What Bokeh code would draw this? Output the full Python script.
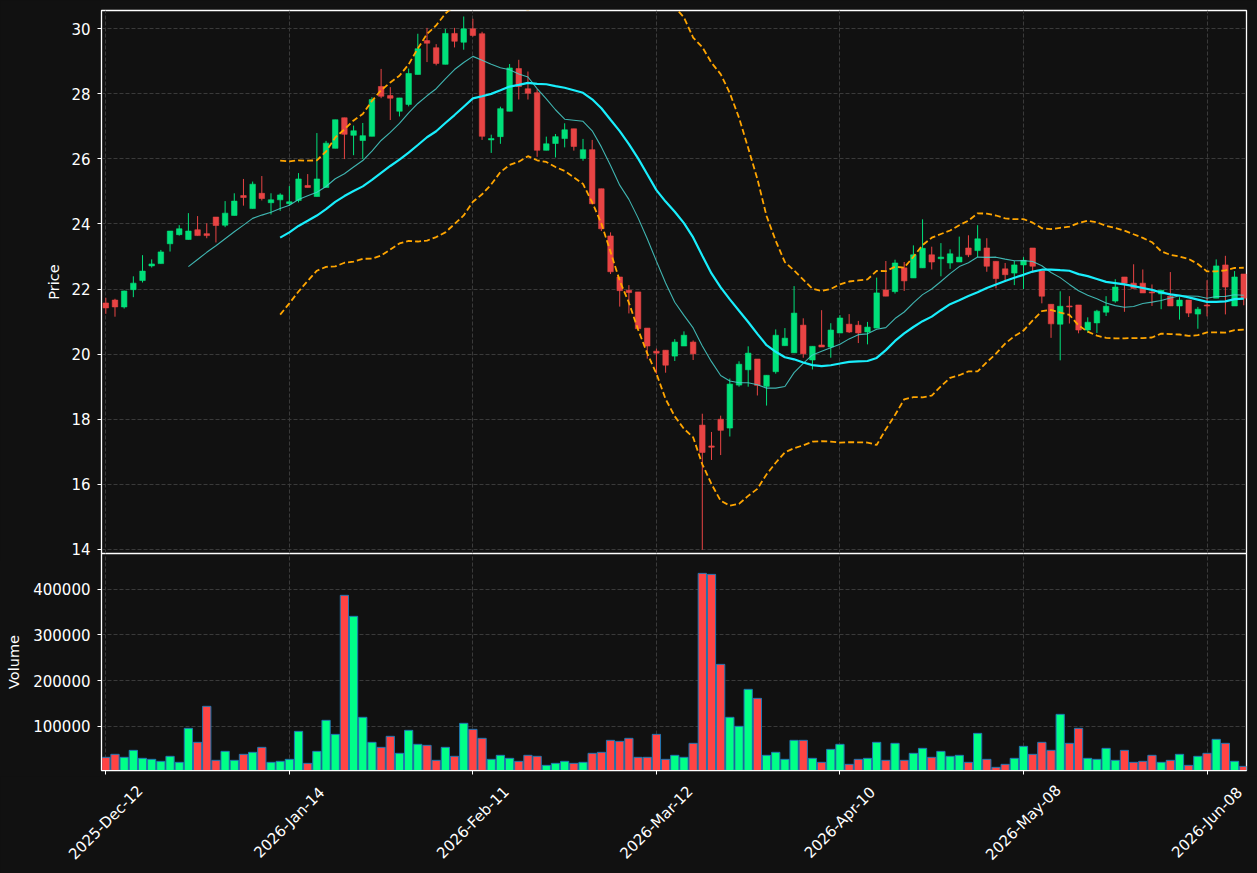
import numpy as np
import pandas as pd
from math import pi
from bokeh.plotting import figure
from bokeh.layouts import column
from bokeh.models import ColumnDataSource, FixedTicker, Range1d, NumeralTickFormatter
from bokeh.core.properties import value
from bokeh.embed import file_html
from bokeh.resources import INLINE

# ---------------- data ----------------
opens = [21.57, 21.66, 21.45, 21.98, 22.26, 22.71, 22.78, 23.39, 23.67, 23.52,
         23.82, 23.70, 24.21, 23.96, 24.26, 24.87, 24.47, 24.94, 24.65, 24.74,
         24.62, 24.72, 25.18, 24.84, 25.12, 26.32, 27.26, 26.72, 26.56, 26.69,
         28.22, 27.94, 27.46, 27.67, 28.59, 29.63, 29.41, 28.90, 29.85, 29.58,
         29.99, 29.84, 26.58, 26.68, 27.46, 28.77, 28.15, 28.03, 26.26, 26.47,
         26.62, 26.92, 26.01, 26.28, 25.08, 23.63, 22.37, 21.96, 21.91, 20.80,
         20.09, 20.12, 19.94, 20.25, 20.37, 17.82, 17.18, 18.00, 17.73, 19.05,
         19.52, 19.85, 19.01, 19.46, 20.26, 20.04, 20.89, 19.82, 20.28, 20.22,
         20.65, 20.92, 20.89, 20.68, 20.80, 21.97, 21.92, 22.65, 22.34, 22.65,
         23.05, 22.93, 22.80, 22.83, 23.26, 23.18, 23.26, 22.85, 22.62, 22.49,
         22.74, 23.26, 22.55, 21.53, 20.92, 21.48, 21.51, 20.74, 20.96, 21.29,
         21.63, 22.37, 22.18, 22.18, 21.91, 21.85, 21.78, 21.48, 21.66, 21.23,
         21.51, 21.72, 22.74, 21.48, 22.46]
highs = [21.73, 21.70, 21.95, 22.39, 23.04, 22.91, 23.20, 23.78, 23.96, 24.33,
         24.24, 24.02, 24.21, 24.70, 24.94, 25.38, 25.30, 25.47, 24.94, 24.94,
         25.16, 25.56, 25.53, 26.79, 26.55, 27.20, 27.26, 27.02, 27.10, 27.89,
         28.76, 28.20, 27.87, 28.77, 29.84, 30.02, 29.52, 29.99, 30.02, 30.37,
         30.30, 29.90, 26.74, 27.60, 28.91, 29.04, 28.68, 28.14, 26.68, 26.76,
         27.09, 26.92, 26.61, 26.58, 25.08, 23.74, 22.37, 22.12, 21.91, 20.80,
         20.17, 20.12, 20.46, 20.70, 20.42, 18.17, 17.61, 18.11, 19.25, 19.78,
         20.24, 19.85, 19.35, 20.76, 20.80, 22.09, 21.10, 20.24, 21.35, 20.95,
         21.20, 21.23, 21.02, 20.99, 22.35, 22.86, 22.90, 22.83, 23.34, 24.14,
         23.30, 23.41, 23.22, 23.61, 23.65, 23.96, 23.56, 22.85, 22.80, 22.86,
         22.98, 23.26, 22.55, 21.53, 21.93, 21.78, 21.51, 21.13, 21.36, 21.78,
         22.30, 22.37, 22.76, 22.60, 22.14, 21.96, 22.52, 21.75, 21.66, 21.45,
         22.27, 22.91, 23.02, 22.55, 22.46]
lows = [21.24, 21.15, 21.40, 21.75, 22.20, 22.66, 22.78, 23.15, 23.64, 23.52,
        23.64, 23.56, 23.43, 23.90, 24.26, 24.56, 24.47, 24.72, 24.29, 24.40,
        24.56, 24.66, 25.12, 24.84, 25.12, 26.32, 25.99, 26.11, 25.99, 26.69,
        27.86, 27.19, 27.30, 27.61, 28.59, 28.97, 28.87, 28.90, 29.42, 29.35,
        29.75, 26.58, 26.18, 26.46, 27.46, 27.82, 27.82, 26.06, 26.26, 26.04,
        26.35, 26.25, 25.94, 24.60, 23.78, 22.46, 21.46, 21.25, 20.75, 19.86,
        19.40, 19.43, 19.79, 20.25, 19.82, 13.99, 16.75, 16.90, 17.47, 19.00,
        19.00, 18.73, 18.42, 19.40, 20.26, 20.04, 19.89, 19.53, 20.22, 19.89,
        20.65, 20.65, 20.34, 20.30, 20.80, 21.78, 21.86, 21.94, 22.34, 22.65,
        22.60, 22.39, 22.62, 22.83, 22.98, 22.98, 22.53, 22.02, 22.22, 22.12,
        22.00, 22.49, 21.56, 20.50, 19.81, 20.94, 20.64, 20.66, 20.65, 21.17,
        21.58, 21.30, 22.02, 21.88, 21.48, 21.38, 21.48, 21.06, 21.14, 20.78,
        21.16, 21.72, 21.22, 21.48, 21.50]
closes = [21.42, 21.45, 21.94, 22.18, 22.55, 22.77, 23.14, 23.78, 23.85, 23.78,
          23.64, 23.64, 23.95, 24.33, 24.70, 24.81, 25.22, 24.78, 24.74, 24.89,
          24.68, 25.38, 25.12, 25.38, 26.48, 27.20, 26.75, 26.86, 26.71, 27.82,
          27.92, 27.86, 27.87, 28.62, 29.38, 29.55, 28.93, 29.85, 29.61, 29.99,
          29.79, 26.69, 26.62, 27.54, 28.79, 28.22, 28.01, 26.26, 26.46, 26.68,
          26.89, 26.38, 26.28, 24.62, 23.85, 22.53, 21.95, 21.89, 20.78, 20.25,
          20.03, 19.66, 20.37, 20.58, 20.01, 16.98, 17.14, 17.66, 19.08, 19.69,
          20.03, 19.04, 19.35, 20.58, 20.49, 21.26, 20.01, 20.24, 20.22, 20.74,
          21.11, 20.68, 20.65, 20.83, 21.88, 21.78, 22.80, 22.25, 23.05, 23.25,
          22.83, 22.98, 23.08, 22.98, 23.05, 23.54, 22.70, 22.32, 22.44, 22.74,
          22.88, 22.70, 21.78, 20.93, 21.47, 21.45, 20.74, 20.98, 21.32, 21.47,
          22.06, 22.18, 22.02, 21.88, 21.88, 21.96, 21.48, 21.66, 21.26, 21.38,
          21.48, 22.71, 22.06, 22.37, 21.72]
volumes = [31400, 38000, 31400, 46700, 29200, 27000, 22600, 33600, 20400, 95000,
           64300, 143300, 24800, 44500, 24800, 38000, 42400, 53300, 20400, 22600,
           27000, 88400, 18200, 44500, 112600, 81800, 386900, 340800, 119200, 64300,
           53300, 77500, 40200, 90600, 59900, 57700, 24800, 53300, 33600, 106000,
           92800, 73100, 27000, 35800, 29200, 22600, 35800, 33600, 13800, 18200,
           22600, 18200, 20400, 40200, 42400, 68700, 66500, 73100, 31400, 31400,
           81800, 27000, 35800, 31400, 62100, 435100, 432900, 235400, 119200, 99400,
           180600, 160800, 35800, 42400, 27000, 68700, 68700, 29200, 20400, 48900,
           59900, 16000, 27000, 29200, 64300, 24800, 62100, 24800, 40200, 51100,
           31400, 44500, 33600, 35800, 20400, 84000, 27000, 9400, 16000, 29200,
           55500, 38000, 64300, 46700, 125700, 62100, 95000, 29200, 27000, 51100,
           24800, 46700, 20400, 22600, 35800, 20400, 24800, 38000, 13800, 33600,
           40200, 70900, 62100, 22600, 11600]
tick_positions = [0, 20, 40, 60, 80, 100, 120]
tick_labels = ["2025-Dec-12", "2026-Jan-14", "2026-Feb-11", "2026-Mar-12",
               "2026-Apr-10", "2026-May-08", "2026-Jun-08"]
price_ticks = [14, 16, 18, 20, 22, 24, 26, 28, 30]
volume_ticks = [100000, 200000, 300000, 400000]

# ---------------- derived indicators ----------------
n = len(closes)
idx = np.arange(n)
cs = pd.Series(closes, dtype=float)
sma10 = cs.rolling(10).mean()
sma20 = cs.rolling(20).mean()
std20 = cs.rolling(20).std()
upper = sma20 + 2 * std20
lower = sma20 - 2 * std20

BG = "#111111"
UP_C, DN_C = "#00e07a", "#e84444"
UP_V, DN_V = "#00ff88", "#ff4444"
up = [c >= o for o, c in zip(opens, closes)]
src = ColumnDataSource(dict(
    x=idx, o=opens, h=highs, l=lows, c=closes,
    top=[max(o, c) for o, c in zip(opens, closes)],
    bottom=[min(o, c) for o, c in zip(opens, closes)],
    color=[UP_C if u else DN_C for u in up],
    vcolor=[UP_V if u else DN_V for u in up],
    vol=volumes,
))
ind = ColumnDataSource(dict(x=idx, sma10=sma10.values, sma20=sma20.values,
                            upper=upper.values, lower=lower.values))

FONT = "DejaVu Sans"
W = 1257
LEFT, RIGHT = 101, 11
xr = Range1d(-0.47, 124.3)


def style(p):
    p.background_fill_color = BG
    p.border_fill_color = BG
    p.outline_line_color = "white"
    p.outline_line_width = 1.3
    for ax in p.axis:
        ax.axis_line_color = "white"
        ax.major_tick_line_color = "white"
        ax.minor_tick_line_color = None
        ax.major_tick_out = 4
        ax.major_tick_in = 0
        ax.major_label_text_color = "white"
        ax.major_label_text_font = FONT
        ax.major_label_text_font_size = "15px"
        ax.major_label_standoff = 7
        ax.axis_label_text_color = "white"
        ax.axis_label_text_font = FONT
        ax.axis_label_text_font_size = "14.5px"
        ax.axis_label_text_font_style = "normal"
    for g in p.grid:
        g.grid_line_color = "#3a3a3a"
        g.grid_line_dash = "4 2"
        g.grid_line_width = 1


OVER = 8  # the price panel's last tick label hangs over the volume panel
p1 = figure(width=W, height=553 + OVER, x_range=xr, y_range=Range1d(13.877, 30.554),
            output_backend="svg", toolbar_location=None,
            min_border_left=LEFT, min_border_right=RIGHT, min_border_top=10,
            min_border_bottom=OVER)
style(p1)
p1.xaxis.visible = False
p1.xgrid.ticker = FixedTicker(ticks=tick_positions)
p1.yaxis.ticker = FixedTicker(ticks=price_ticks)
p1.yaxis.axis_label = "Price"
p1.yaxis.axis_label_standoff = 6

p1.segment(x0="x", y0="l", x1="x", y1="h", source=src, line_color="color", line_width=1)
p1.vbar(x="x", width=0.6, top="top", bottom="bottom", source=src,
        fill_color="color", line_color="color", line_width=0.6)
p1.line("x", "sma10", source=ind, line_color="#48d1cc", line_width=1.1, line_alpha=0.85)
p1.line("x", "sma20", source=ind, line_color="#19eefc", line_width=2.2)
p1.line("x", "upper", source=ind, line_color="#ffa500", line_width=1.8, line_dash="6 3")
p1.line("x", "lower", source=ind, line_color="#ffa500", line_width=1.8, line_dash="6 3")

VOL_FRAME = 217
BOT = 6
p2 = figure(width=W, height=VOL_FRAME + BOT, x_range=xr, y_range=Range1d(2500, 478700),
            output_backend="svg", toolbar_location=None,
            min_border_left=LEFT, min_border_right=RIGHT, min_border_top=0,
            min_border_bottom=BOT, margin=(-OVER, 0, 0, 0))
style(p2)
p2.border_fill_alpha = 0
p2.xaxis.ticker = FixedTicker(ticks=tick_positions)
p2.xaxis.major_label_overrides = {t: "" for t in tick_positions}
p2.xaxis.major_label_text_font_size = "0px"
p2.xaxis.major_label_standoff = 0
p2.xgrid.ticker = FixedTicker(ticks=tick_positions)
p2.yaxis.ticker = FixedTicker(ticks=volume_ticks)
p2.yaxis.formatter = NumeralTickFormatter(format="0")
p2.yaxis.axis_label = "Volume"
p2.yaxis.axis_label_standoff = 8

p2.vbar(x="x", width=0.9, top="vol", bottom=0, source=src,
        fill_color="vcolor", line_color="#1f77b4", line_width=1)

# strip under the volume panel holding the rotated date labels, centred on their ticks
ppu = (W - LEFT - RIGHT) / (xr.end - xr.start)
H3 = 873 - 553 - (VOL_FRAME + BOT)
p3 = figure(width=W, height=H3,
            x_range=Range1d(xr.start - LEFT / ppu, xr.end + RIGHT / ppu),
            y_range=Range1d(0, 1), output_backend="svg", toolbar_location=None,
            x_axis_type=None, y_axis_type=None, min_border=0)
if "frame_align" in p3.properties():
    p3.frame_align = False
p3.background_fill_color = BG
p3.border_fill_color = BG
p3.outline_line_color = None
p3.grid.visible = False
p3.text(x=tick_positions, y=0.525, text=tick_labels, angle=pi / 4,
        text_align="center", text_baseline="middle", text_color="white",
        text_font=value(FONT), text_font_size=value("15px"))

layout = column(p1, p2, p3, spacing=0, styles={"background-color": BG})
open("out.html", "w").write(file_html(layout, INLINE))
